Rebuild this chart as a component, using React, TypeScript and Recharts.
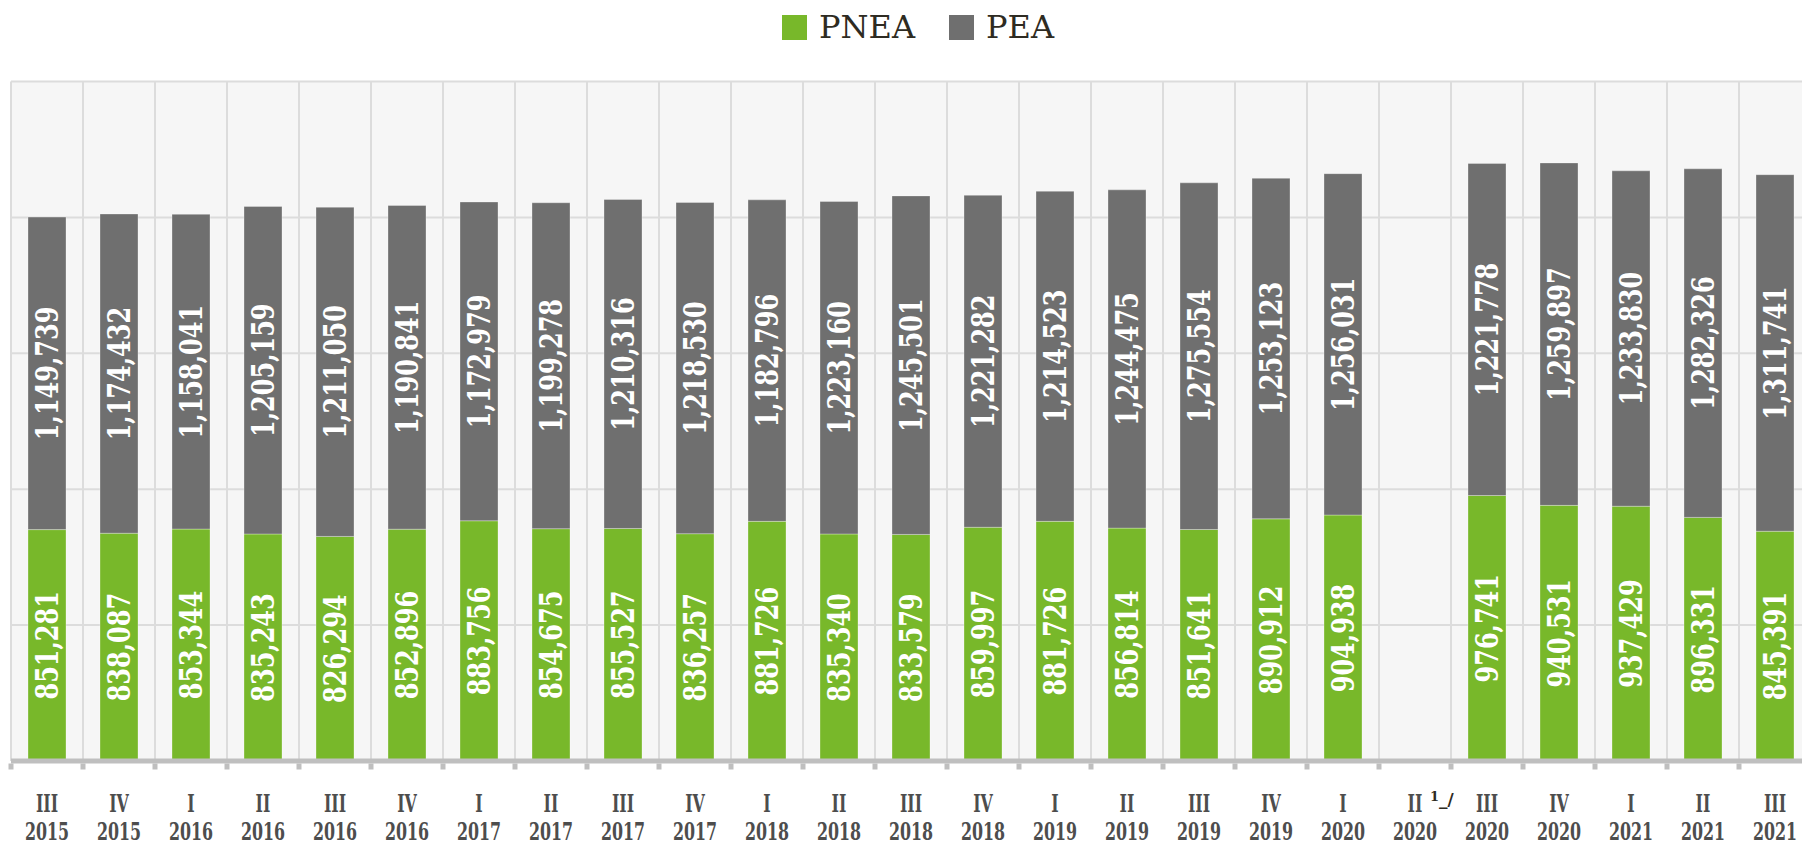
import React from 'react';
import { BarChart, Bar, XAxis, YAxis, CartesianGrid, LabelList } from 'recharts';

const quarters = ['III', 'IV', 'I', 'II', 'III', 'IV', 'I', 'II', 'III', 'IV', 'I', 'II', 'III', 'IV', 'I', 'II', 'III', 'IV', 'I', 'II', 'III', 'IV', 'I', 'II', 'III'];
const years = ['2015', '2015', '2016', '2016', '2016', '2016', '2017', '2017', '2017', '2017', '2018', '2018', '2018', '2018', '2019', '2019', '2019', '2019', '2020', '2020', '2020', '2020', '2021', '2021', '2021'];
const footnotes: Record<string, string> = { 'II 2020': '1_/' };

const pnea = [851281, 838087, 853344, 835243, 826294, 852896, 883756, 854675, 855527, 836257, 881726, 835340, 833579, 859997, 881726, 856814, 851641, 890912, 904938, null, 976741, 940531, 937429, 896331, 845391];
const pea = [1149739, 1174432, 1158041, 1205159, 1211050, 1190841, 1172979, 1199278, 1210316, 1218530, 1182796, 1223160, 1245501, 1221282, 1214523, 1244475, 1275554, 1253123, 1256031, null, 1221778, 1259897, 1233830, 1282326, 1311741];

const yTicks = [0, 500000, 1000000, 1500000, 2000000, 2500000];

const series = [
  { key: 'PNEA', color: '#78b82a' },
  { key: 'PEA', color: '#6f6f6f' },
];

const rows = quarters.map((q, i) => ({
  key: `${q} ${years[i]}`,
  q,
  yr: years[i],
  note: footnotes[`${q} ${years[i]}`] || '',
  PNEA: pnea[i],
  PEA: pea[i],
}));

const SERIF = '"DejaVu Serif", serif';
const AXIS_GRAY = '#bfbfbf';

const fmt = (v: number) => v.toLocaleString('en-US');

const renderBarLabel = (props: any) => {
  const { x, y, width, height, value } = props;
  if (value == null || !height) return null;
  const cx = Number(x) + Number(width) / 2;
  const cy = Number(y) + Number(height) / 2;
  return (
    <text
      transform={`translate(${cx},${cy}) rotate(-90) scale(0.75,1)`}
      textAnchor="middle"
      dominantBaseline="central"
      fill="#ffffff"
      fontFamily={SERIF}
      fontWeight="bold"
      fontSize={32}
    >
      {fmt(value)}
    </text>
  );
};

const XTick = (props: any) => {
  const { x, y, payload, width, visibleTicksCount, index } = props;
  const row = rows.find((r) => r.key === payload.value);
  if (!row) return null;
  const n = visibleTicksCount || quarters.length;
  const bw = Number(width) / n;
  const isLast = index === n - 1;
  return (
    <g transform={`translate(${x},${y})`}>
      <rect x={-bw / 2 - 2.5} y={2.5} width={5} height={6} fill={AXIS_GRAY} />
      {isLast ? <rect x={bw / 2 - 2.5} y={2.5} width={5} height={6} fill={AXIS_GRAY} /> : null}
      <text
        transform="translate(0,50.5) scale(0.66,1)"
        textAnchor="middle"
        fill="#4d4d4d"
        fontFamily={SERIF}
        fontWeight="bold"
        fontSize={24}
      >
        {row.q}
      </text>
      <text
        transform="translate(0,78.5) scale(0.66,1)"
        textAnchor="middle"
        fill="#4d4d4d"
        fontFamily={SERIF}
        fontWeight="bold"
        fontSize={24}
      >
        {row.yr}
      </text>
      {row.note ? (
        <text x={15} y={40} fill="#2e2b22" fontFamily={SERIF} fontWeight="bold">
          <tspan fontSize={13}>{row.note.slice(0, 1)}</tspan>
          <tspan fontSize={17} dy={4}>{row.note.slice(1)}</tspan>
        </text>
      ) : null}
    </g>
  );
};

const verticalGen = (props: any) => {
  const { offset } = props;
  const n = quarters.length;
  return Array.from({ length: n + 1 }, (_, i) => offset.left + (i * offset.width) / n);
};

export default function App() {
  return (
    <div
      style={{
        position: 'absolute',
        left: 0,
        top: 0,
        width: 1802,
        height: 845,
        overflow: 'hidden',
        background: '#ffffff',
      }}
    >
      <div
        style={{
          position: 'absolute',
          left: 0,
          top: 8,
          width: 1836,
          height: 38,
          display: 'flex',
          justifyContent: 'center',
          alignItems: 'center',
          zIndex: 2,
        }}
      >
        {series.map((s, i) => (
          <div
            key={s.key}
            style={{ display: 'flex', alignItems: 'center', marginLeft: i === 0 ? 0 : 34 }}
          >
            <div style={{ width: 25, height: 25, background: s.color, marginRight: 12 }} />
            <span
              style={{
                fontFamily: SERIF,
                fontSize: 32,
                lineHeight: '38px',
                color: '#2e2b22',
              }}
            >
              {s.key}
            </span>
          </div>
        ))}
      </div>
      <div style={{ position: 'absolute', left: 0, top: 0 }}>
        <BarChart
          width={1836}
          height={845}
          data={rows}
          margin={{ top: 81.5, right: 25, bottom: 0, left: 11 }}
          barSize={38}
        >
          <CartesianGrid
            fill="#f6f6f6"
            stroke="#dcdcdc"
            strokeWidth={2}
            verticalCoordinatesGenerator={verticalGen}
          />
          <XAxis
            dataKey="key"
            type="category"
            interval={0}
            tick={<XTick />}
            tickLine={false}
            axisLine={{ stroke: AXIS_GRAY, strokeWidth: 5 }}
            tickSize={0}
            tickMargin={0}
            height={84}
          />
          <YAxis hide domain={[0, 2500000]} ticks={yTicks} />
          {series.map((s) => (
            <Bar
              key={s.key}
              dataKey={s.key}
              stackId="a"
              fill={s.color}
              stroke="rgba(255,255,255,0.3)"
              strokeWidth={1}
              isAnimationActive={false}
            >
              <LabelList dataKey={s.key} content={renderBarLabel} />
            </Bar>
          ))}
        </BarChart>
      </div>
    </div>
  );
}
